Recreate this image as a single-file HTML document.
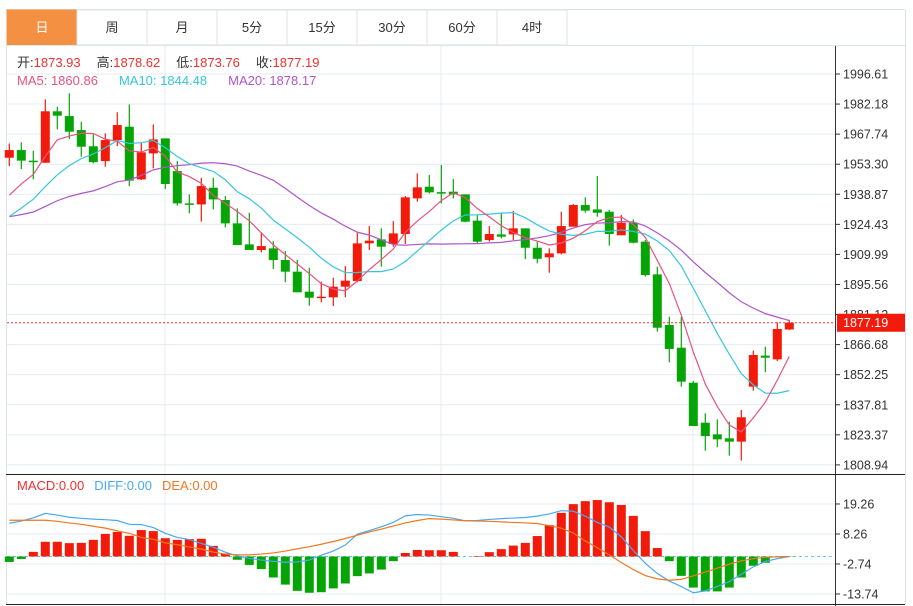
<!DOCTYPE html>
<html><head><meta charset="utf-8">
<style>
body{margin:0;background:#fff;width:913px;height:606px;overflow:hidden;font-family:"Liberation Sans","Noto Sans CJK SC",sans-serif;}
svg{position:absolute;left:0;top:0;}
</style></head>
<body>
<svg id="c" width="913" height="606" xmlns="http://www.w3.org/2000/svg"></svg>
<script>
const tabs=["日","周","月","5分","15分","30分","60分","4时"];
const priceTicks=["1996.61","1982.18","1967.74","1953.30","1938.87","1924.43","1909.99","1895.56","1881.12","1866.68","1852.25","1837.81","1823.37","1808.94"];
const macdTicks=["19.26","8.26","-2.74","-13.74"];
const opens=[1956.4,1960.1,1955.0,1954.0,1978.7,1976.4,1969.7,1961.9,1954.8,1964.9,1971.3,1946.0,1958.5,1965.7,1950.0,1934.5,1934.0,1942.0,1936.1,1924.9,1914.8,1912.1,1912.9,1907.3,1901.7,1892.1,1889.3,1889.4,1894.5,1897.2,1915.3,1917.2,1915.0,1919.8,1936.9,1942.5,1939.9,1940.1,1938.8,1926.2,1916.9,1919.6,1919.6,1922.5,1913.2,1908.6,1910.5,1923.3,1933.7,1931.6,1930.5,1919.2,1925.2,1916.1,1900.4,1876.1,1865.2,1848.4,1829.2,1823.6,1821.7,1820.1,1846.5,1861.4,1859.6,1873.93];
const highs=[1963.3,1963.8,1959.8,1984.4,1980.9,1987.3,1973.7,1967.6,1968.1,1978.2,1982.0,1963.6,1972.4,1965.7,1954.8,1938.8,1946.8,1946.8,1938.0,1932.1,1930.0,1920.6,1916.4,1911.6,1907.3,1903.6,1896.9,1898.8,1904.4,1920.4,1923.6,1922.5,1926.0,1938.0,1948.9,1948.1,1952.9,1946.2,1938.8,1928.9,1923.6,1929.7,1930.8,1922.5,1916.1,1912.9,1930.5,1934.2,1937.4,1947.6,1931.3,1928.9,1926.8,1916.9,1904.1,1880.1,1880.1,1849.2,1833.7,1830.8,1829.7,1835.3,1863.8,1865.7,1877.4,1878.62];
const lows=[1952.4,1951.0,1946.0,1954.0,1970.0,1965.4,1956.9,1953.7,1952.1,1962.0,1942.8,1945.7,1951.3,1941.4,1933.4,1929.7,1925.7,1931.6,1923.0,1914.5,1912.1,1911.0,1903.0,1896.6,1891.8,1885.4,1887.0,1885.2,1889.4,1896.6,1912.1,1904.1,1913.7,1915.0,1935.3,1939.3,1934.5,1936.9,1925.4,1915.3,1916.1,1917.7,1916.9,1907.8,1905.7,1901.2,1910.0,1923.3,1930.0,1928.1,1914.2,1919.2,1915.3,1899.3,1872.9,1858.2,1846.5,1827.6,1815.8,1817.4,1813.4,1811.0,1844.6,1853.4,1858.8,1873.76];
const closes=[1960.1,1955.0,1954.8,1978.7,1976.6,1968.9,1961.7,1954.3,1964.9,1972.1,1945.4,1959.0,1965.2,1943.8,1934.5,1934.3,1942.8,1936.4,1924.9,1914.5,1912.1,1914.0,1907.3,1901.7,1891.8,1889.2,1889.7,1894.5,1897.4,1915.3,1916.6,1913.7,1920.1,1937.4,1942.2,1939.8,1939.7,1938.8,1925.7,1916.1,1919.8,1918.5,1922.5,1913.2,1907.9,1910.5,1923.6,1933.7,1931.0,1930.0,1919.8,1925.2,1915.6,1900.1,1874.8,1864.6,1848.9,1827.6,1822.8,1821.2,1820.1,1831.8,1861.7,1860.4,1874.2,1877.19];
const priorCloses=[1935,1930,1925,1922,1928,1932,1930,1924,1926,1928,1915,1912,1918,1920,1925,1928,1932,1935,1937];
const macdHist=[-2.0,-0.9,1.7,5.4,5.4,4.9,5.0,6.1,8.3,9.0,7.6,9.7,9.3,6.7,6.1,6.4,6.5,3.9,1.1,-1.2,-3.1,-4.6,-7.7,-10.3,-12.6,-13.3,-13.1,-11.7,-9.9,-7.2,-6.2,-4.8,-1.7,1.3,2.4,2.3,2.3,1.7,0,0.2,1.6,2.7,4.0,5.0,7.5,11.5,16.0,19.2,20.3,20.7,19.9,18.9,14.9,9.3,3.1,-1.7,-7.1,-11.4,-12.8,-12.8,-11.4,-7.7,-3.4,-2.3,-0.3,-0.1];
const diffVals=[12.2,13.0,14.2,15.8,15.2,14.4,14.0,13.7,13.5,13.2,11.8,11.7,10.6,8.5,7.0,6.2,4.8,3.4,1.6,0.2,-0.7,-1.3,-1.8,-2.1,-2.0,-1.3,0.5,2.0,4.2,8.2,9.5,10.9,12.5,14.9,15.4,15.2,14.6,14.0,13.1,13.2,13.6,13.9,14.1,14.3,14.8,15.6,16.8,16.6,14.8,12.5,10.8,7.2,2.2,-2.5,-6.2,-9.0,-11.0,-13.3,-12.6,-11.0,-9.2,-6.5,-3.8,-1.8,-0.8,0];
const deaVals=[13.3,13.3,13.3,13.3,12.9,12.3,11.8,11.1,10.4,9.4,8.5,7.0,6.3,5.0,4.3,3.5,2.7,1.6,0.9,0.6,0.6,0.9,1.3,2.0,2.8,3.6,4.5,5.5,6.6,7.8,9.0,10.0,11.2,12.3,13.2,13.9,13.7,13.4,13.1,13.0,12.9,12.7,12.5,12.3,12.1,11.3,10.4,8.6,5.7,3.2,0.6,-2.2,-4.8,-7.0,-8.2,-8.7,-8.4,-7.1,-5.7,-4.3,-2.8,-1.6,-0.8,-0.3,-0.1,0];

const NS="http://www.w3.org/2000/svg";
const svg=document.getElementById('c');
function mk(tag,attrs,parent){const e=document.createElementNS(NS,tag);for(const k in attrs)e.setAttribute(k,attrs[k]);(parent||svg).appendChild(e);return e;}
const RED="#f21a0a",GREEN="#06a406";
const yP=p=>74+(1996.61-p)*(30.07/14.4367);
const yM=v=>556.5-v*2.727;
const xI=i=>9.3+12*i;

let e=mk('line',{x1:6,y1:9.5,x2:905,y2:9.5,stroke:'#dde3ea'});

tabs.forEach((t,i)=>{
  const x=7+i*70;
  const g=mk('g',{});
  
  
  mk('rect',{x:x,y:10,width:70,height:35,fill:i==0?'#f39042':'#fff',stroke:i==0?'#f39042':'#dde3ea'},g);
  const tx=mk('text',{x:x+35,y:32,'text-anchor':'middle','font-size':13,fill:i==0?'#fff':'#333'},g);
  tx.textContent=t;
});
mk('line',{x1:6.5,y1:45,x2:6.5,y2:604,stroke:'#dde3ea'});
mk('line',{x1:905.5,y1:10,x2:905.5,y2:604,stroke:'#dde3ea'});
mk('line',{x1:6,y1:45.5,x2:905,y2:45.5,stroke:'#dde3ea'});

priceTicks.forEach((t,i)=>{
  const y=yP(parseFloat(t));
  const l=mk('line',{x1:7,y1:y,x2:835,y2:y,stroke:'#e4ecf3'});
  
  mk('line',{x1:835,y1:y,x2:840,y2:y,stroke:'#333'});
  const tx=mk('text',{x:843,y:y+4.5,'font-size':12.5,fill:'#333'});
  
  tx.textContent=t;
});
[165,441,693].forEach(x=>{
  const l=mk('line',{x1:x,y1:46,x2:x,y2:604,stroke:'#e4ecf3'});
  
});
macdTicks.forEach(t=>{
  const y=yM(parseFloat(t));
  mk('line',{x1:7,y1:y,x2:835,y2:y,stroke:'#e4ecf3'});
  mk('line',{x1:835,y1:y,x2:840,y2:y,stroke:'#333'});
  const tx=mk('text',{x:843,y:y+4.5,'font-size':12.5,fill:'#333'});
  
  tx.textContent=t;
});
mk('line',{x1:835.5,y1:46,x2:835.5,y2:606,stroke:'#333'});
mk('line',{x1:6,y1:474.5,x2:905,y2:474.5,stroke:'#222'});
mk('line',{x1:6,y1:604.5,x2:905,y2:604.5,stroke:'#222'});

function legend(items,y,name){
  const t=mk('text',{x:17,y:y,'font-size':13});
  
  items.forEach(([s,c,dx])=>{const sp=mk('tspan',{fill:c,dx:dx||0},t);sp.textContent=s;});
}
legend([["开:","#333"],["1873.93","#f03030"],["高:","#333",16],["1878.62","#f03030"],["低:","#333",16],["1873.76","#f03030"],["收:","#333",16],["1877.19","#f03030"]],67,'ohlc-legend');
legend([["MA5: 1860.86","#e8537f"],["MA10: 1844.48","#35c6dd",21],["MA20: 1878.17","#b055c8",21]],85,'ma-legend');
legend([["MACD:0.00","#f03030"],["DIFF:0.00","#4aa8f0",10],["DEA:0.00","#f07820",10]],490,'macd-legend');

closes.forEach((c,i)=>{
  const o=opens[i],h=highs[i],l=lows[i];
  const col=c>=o?RED:GREEN;
  const x=xI(i);
  const g=mk('g',{});
  
  
  mk('line',{x1:x,y1:yP(h),x2:x,y2:yP(l),stroke:col,'stroke-width':1.2},g);
  const top=Math.min(yP(o),yP(c)),bh=Math.max(1.5,Math.abs(yP(o)-yP(c)));
  mk('rect',{x:x-4.5,y:top,width:9,height:bh,fill:col},g);
});

const all=priorCloses.concat(closes);
function ma(n){return closes.map((_,i)=>{const j=i+priorCloses.length;let s=0;for(let k=j-n+1;k<=j;k++)s+=all[k];return s/n;});}
[[20,'#b055c8','ma20-line'],[10,'#35c6dd','ma10-line'],[5,'#e8537f','ma5-line']].forEach(([n,col,name])=>{
  const pts=ma(n).map((v,i)=>xI(i)+','+yP(v)).join(' ');
  const p=mk('polyline',{points:pts,fill:'none',stroke:col,'stroke-width':1.2});
  
});

const lp=closes[closes.length-1];
const dl=mk('line',{x1:7,y1:yP(lp),x2:835,y2:yP(lp),stroke:'#f03030','stroke-dasharray':'2,2'});

const lb=mk('rect',{x:837,y:yP(lp)-9,width:68,height:18,fill:'#f21a0a'});

const lt=mk('text',{x:843,y:yP(lp)+4.5,'font-size':12.5,fill:'#fff'});
lt.textContent=lp.toFixed(2);

mk('line',{x1:7,y1:yM(0),x2:835,y2:yM(0),stroke:'#6cc4e8','stroke-dasharray':'3,3'});
macdHist.forEach((v,i)=>{
  const r=mk('rect',{x:xI(i)-4.5,y:Math.min(yM(0),yM(v)),width:9,height:Math.abs(yM(v)-yM(0)),fill:v>=0?RED:GREEN});
  
});
[[diffVals,'#4aa8f0','diff-line'],[deaVals,'#f07820','dea-line']].forEach(([arr,col,name])=>{
  const p=mk('polyline',{points:arr.map((v,i)=>xI(i)+','+yM(v)).join(' '),fill:'none',stroke:col,'stroke-width':1.2});
  
});
</script>
</body></html>
